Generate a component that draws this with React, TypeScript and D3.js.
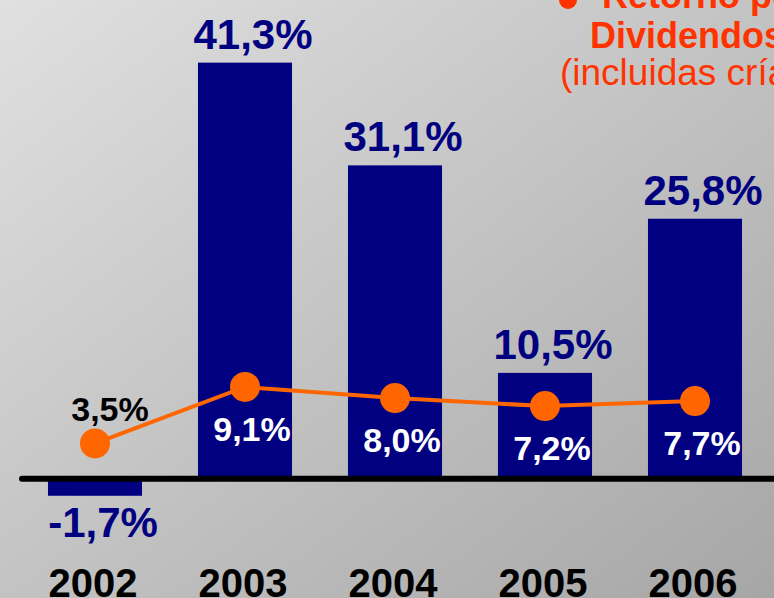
import React, { useEffect, useRef } from 'react';
import * as d3 from 'd3';

// data
const years = ['2002', '2003', '2004', '2005', '2006'];
const totalReturn = [-1.7, 41.3, 31.1, 10.5, 25.8];
const dividendReturn = [3.5, 9.1, 8.0, 7.2, 7.7];
const legendLines = ['Retorno por', 'Dividendos', '(incluidas crías)'];

const fmt = (v: number) => v.toFixed(1).replace('.', ',') + '%';

export default function App() {
  const ref = useRef<SVGSVGElement>(null);

  useEffect(() => {
    const width = 774, height = 598;
    const font = "'Liberation Sans', Arial, sans-serif";
    const svg = d3.select(ref.current);
    svg.selectAll('*').remove();

    // background gradient
    const defs = svg.append('defs');
    const grad = defs.append('linearGradient')
      .attr('id', 'bg').attr('x1', 0).attr('y1', 0).attr('x2', 1).attr('y2', 1);
    grad.append('stop').attr('offset', '0%').attr('stop-color', '#e0e0e0');
    grad.append('stop').attr('offset', '100%').attr('stop-color', '#a6a6a6');
    svg.append('rect').attr('width', width).attr('height', height).attr('fill', 'url(#bg)');

    var x = d3.scaleBand<string>()
      .domain(years)
      .range([20, 770])
      .paddingInner(0.373)
      .paddingOuter(0.1865);
    var y = d3.scaleLinear().domain([-5, 50]).range([529, -25]);
    const cx = (d: string) => (x(d) as number) + x.bandwidth() / 2;

    // bars
    svg.selectAll('rect.bar')
      .data(totalReturn)
      .enter()
      .append('rect')
      .attr('class', 'bar')
      .attr('x', (d, i) => x(years[i]) as number)
      .attr('y', d => y(Math.max(0, d)))
      .attr('width', x.bandwidth())
      .attr('height', d => Math.abs(y(d) - y(0)))
      .attr('fill', '#000080');

    // bar labels
    svg.selectAll('text.barlab')
      .data(totalReturn)
      .enter()
      .append('text')
      .attr('x', (d, i) => cx(years[i]) + 8)
      .attr('y', d => d < 0 ? y(d) + 41 : y(d) - 14)
      .attr('text-anchor', 'middle')
      .attr('font-family', font)
      .attr('font-weight', 'bold')
      .attr('font-size', 42)
      .attr('fill', '#000080')
      .text(d => fmt(d));

    // zero axis line
    svg.append('line')
      .attr('x1', 22).attr('x2', 780)
      .attr('y1', y(0)).attr('y2', y(0))
      .attr('stroke', '#000')
      .attr('stroke-width', 6)
      .attr('stroke-linecap', 'round');

    // dividend line
    const line = d3.line<number>()
      .x((d, i) => cx(years[i]))
      .y(d => y(d));
    svg.append('path')
      .datum(dividendReturn)
      .attr('d', line)
      .attr('fill', 'none')
      .attr('stroke', '#ff6600')
      .attr('stroke-width', 4);
    svg.selectAll('circle.dot')
      .data(dividendReturn)
      .enter()
      .append('circle')
      .attr('cx', (d, i) => cx(years[i]))
      .attr('cy', d => y(d))
      .attr('r', 15)
      .attr('fill', '#ff6600');

    svg.selectAll('text.linelab')
      .data(dividendReturn)
      .enter()
      .append('text')
      .attr('x', (d, i) => cx(years[i]) + (i === 0 ? 15 : 7))
      .attr('y', (d, i) => i === 0 ? y(d) - 22 : y(d) + 54)
      .attr('text-anchor', 'middle')
      .attr('font-family', font)
      .attr('font-weight', 'bold')
      .attr('font-size', 34)
      .attr('fill', (d, i) => i === 0 ? '#000' : '#fff')
      .text(d => fmt(d));

    // year labels
    svg.selectAll('text.year')
      .data(years)
      .enter()
      .append('text')
      .attr('x', d => cx(d) - 2)
      .attr('y', 597)
      .attr('text-anchor', 'middle')
      .attr('font-family', font)
      .attr('font-weight', 'bold')
      .attr('font-size', 40)
      .attr('fill', '#000')
      .text(d => d);

    // legend (cut off at the right edge)
    svg.append('circle').attr('cx', 568).attr('cy', 0).attr('r', 9).attr('fill', '#ff3300');
    svg.append('text')
      .attr('x', 602).attr('y', 8)
      .attr('font-family', font).attr('font-weight', 'bold').attr('font-size', 36)
      .attr('fill', '#ff3300').text(legendLines[0]);
    svg.append('text')
      .attr('x', 590).attr('y', 48)
      .attr('font-family', font).attr('font-weight', 'bold').attr('font-size', 36)
      .attr('fill', '#ff3300').text(legendLines[1]);
    svg.append('text')
      .attr('x', 560).attr('y', 85)
      .attr('font-family', font).attr('font-size', 37)
      .attr('fill', '#ff3300').text(legendLines[2]);
  }, []);

  return (
    <svg ref={ref} width={774} height={598}
      style={{ position: 'absolute', left: 0, top: 0, display: 'block' }} />
  );
}
